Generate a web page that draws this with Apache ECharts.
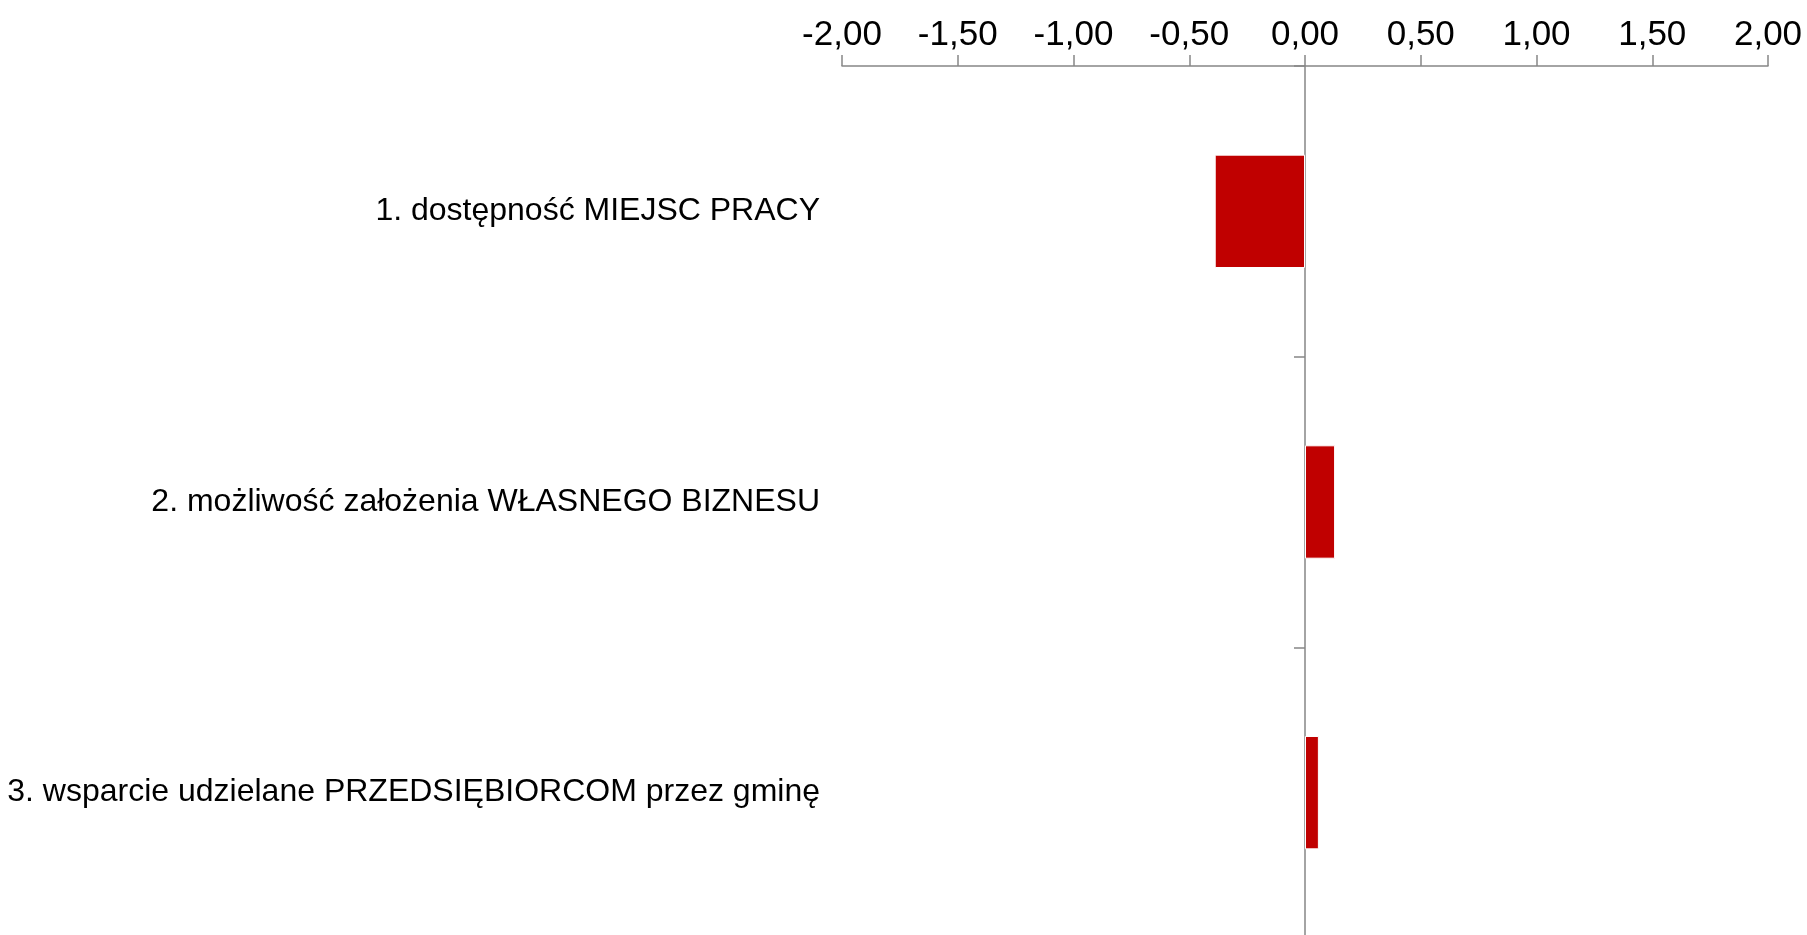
<!DOCTYPE html>
<html>
<head>
<meta charset="utf-8">
<script src="https://cdn.jsdelivr.net/npm/echarts@6/dist/echarts.min.js"></script>
<style>
html,body{margin:0;padding:0;background:#fff;}
#chart{width:1807px;height:935px;}
</style>
</head>
<body>
<div id="chart"></div>
<script>
const categories = [
  '1. dostępność MIEJSC PRACY',
  '2. możliwość założenia WŁASNEGO BIZNESU',
  '3. wsparcie udzielane PRZEDSIĘBIORCOM przez gminę'
];
const values = [-0.39, 0.13, 0.06];
const axisMin = -2;
const axisMax = 2;
const axisStep = 0.5;

const chart = echarts.init(document.getElementById('chart'));
chart.setOption({
  animation: false,
  backgroundColor: '#ffffff',
  grid: { left: 842, right: 39, top: 66, bottom: -3, containLabel: false, outerBoundsMode: 'none' },
  xAxis: {
    type: 'value',
    position: 'top',
    min: axisMin, max: axisMax, interval: axisStep,
    axisLine: { show: true, lineStyle: { color: '#868686', width: 1.5 } },
    axisTick: { show: true, length: 11, lineStyle: { color: '#868686', width: 1.5 } },
    splitLine: { show: false },
    axisLabel: {
      margin: 13,
      color: '#000',
      fontFamily: 'Liberation Sans',
      fontSize: 35,
      showMinLabel: true,
      showMaxLabel: true,
      hideOverlap: false,
      formatter: v => v.toFixed(2).replace('.', ',')
    }
  },
  yAxis: {
    type: 'category',
    inverse: true,
    data: categories,
    axisLine: { show: true, onZero: true, lineStyle: { color: '#868686', width: 1.5 } },
    axisTick: { show: true, length: 11, lineStyle: { color: '#868686', width: 1.5 } },
    axisLabel: {
      margin: 22,
      color: '#000',
      fontFamily: 'Liberation Sans',
      fontSize: 32,
      align: 'right'
    }
  },
  series: [{
    type: 'bar',
    data: values,
    barWidth: '39%',
    itemStyle: { color: '#C00000', borderColor: '#ffffff', borderWidth: 1 }
  }]
});
</script>
</body>
</html>
